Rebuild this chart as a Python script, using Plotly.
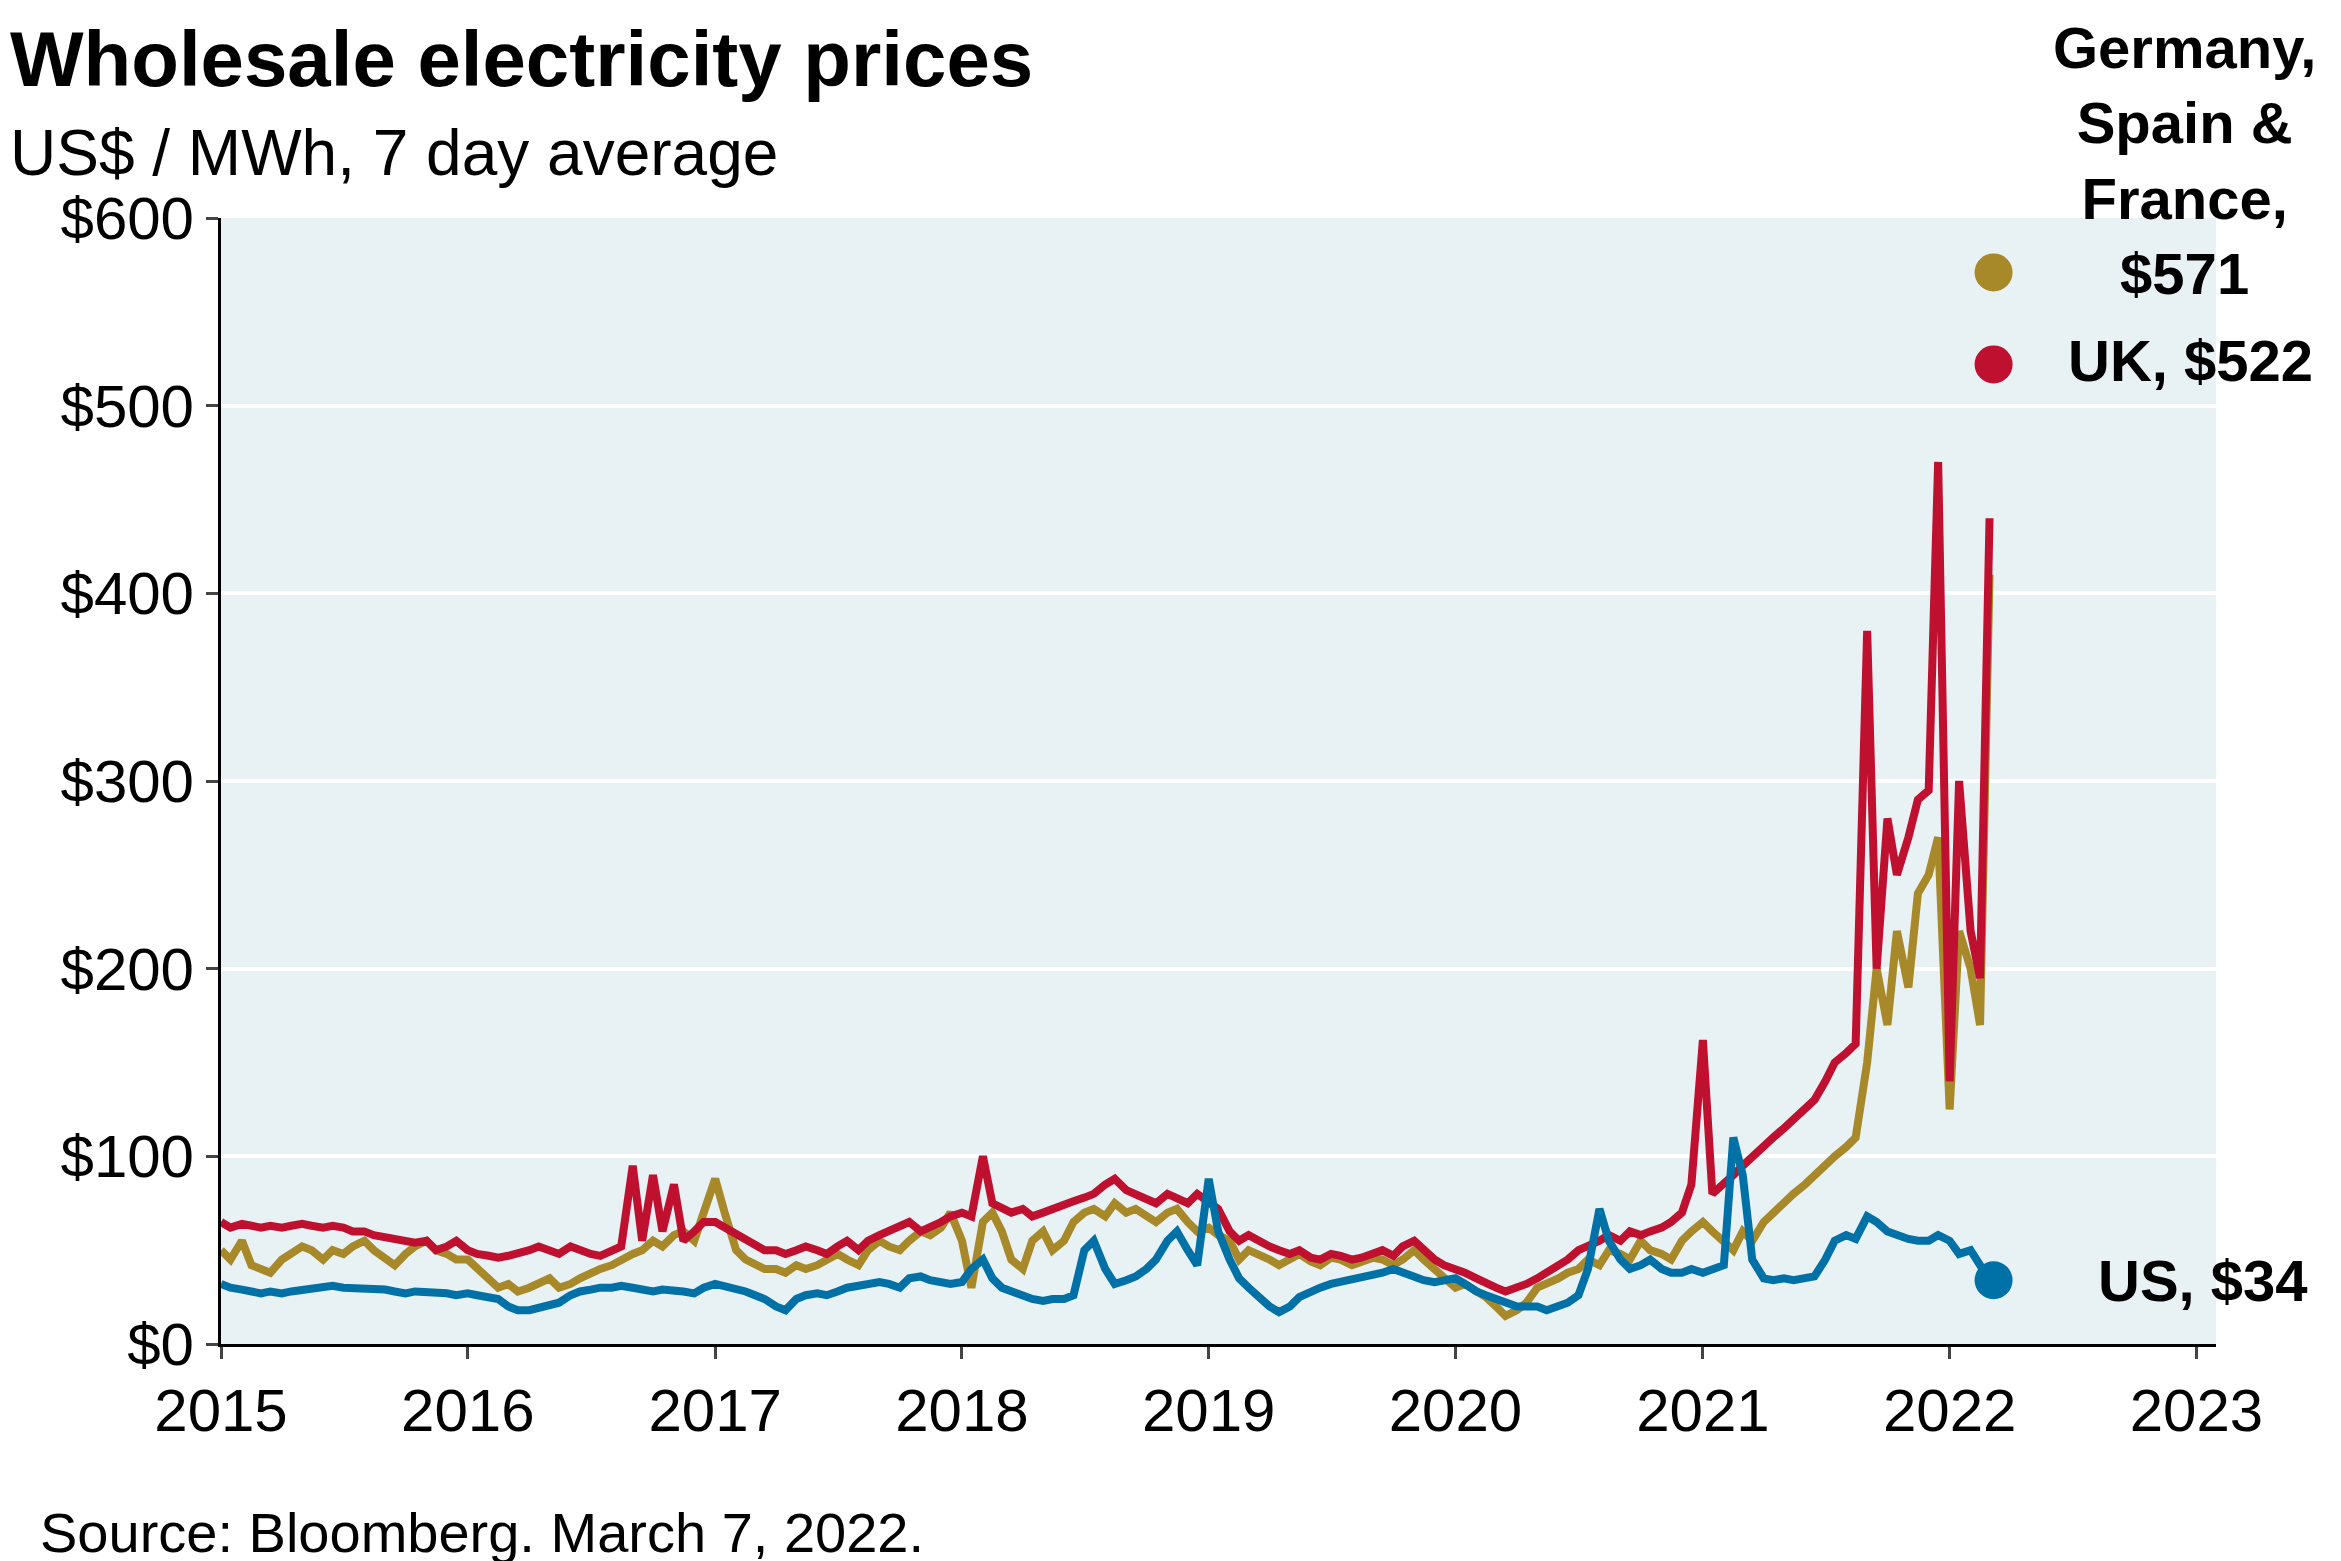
import pandas as pd
import plotly.graph_objects as go

dates = pd.date_range("2015-01-01", periods=173, freq="SMS")

us = [32,30,29,28,27,28,27,28,29,30,31,31,30,30,30,29,29,28,27,28,28,27,27,26,
      27,26,25,24,20,18,18,19,20,22,26,28,29,30,30,31,30,29,28,29,29,28,27,30,
      32,31,30,28,26,24,20,18,24,26,27,26,28,30,31,32,33,32,30,35,36,34,33,32,
      33,40,45,35,30,28,25,24,23,24,24,26,50,55,40,32,34,36,40,45,55,60,50,42,
      88,60,45,35,30,25,20,17,20,25,28,30,32,33,34,35,36,38,40,38,36,34,33,34,
      35,32,28,26,24,22,20,20,20,18,20,22,26,40,72,55,45,40,42,45,40,38,38,40,
      38,40,42,110,90,45,35,34,35,34,35,36,45,55,58,56,68,65,60,58,56,55,55,58,
      55,48,50,42,34]
gsf = [50,45,55,42,40,38,45,48,52,50,45,50,48,52,55,50,45,42,48,52,55,50,48,45,
       45,40,35,30,32,28,30,32,35,30,32,35,38,40,42,45,48,50,55,52,58,60,55,70,
       88,70,50,45,42,40,40,38,42,40,42,45,48,45,42,50,55,52,50,55,60,58,62,70,
       55,30,65,70,60,45,40,55,60,50,55,65,70,72,68,75,70,72,68,65,70,72,65,60,
       62,58,55,45,50,48,45,42,45,48,44,42,46,45,42,44,46,45,42,45,50,45,40,35,
       30,32,28,25,20,15,18,22,30,32,35,38,40,45,42,50,48,45,55,50,48,45,55,60,
       65,60,55,50,60,55,65,70,75,80,85,90,95,100,105,110,150,200,170,220,190,240,250,270,
       125,220,200,170,410]
uk = [65,62,64,63,62,63,62,63,64,63,62,63,62,60,60,58,57,56,55,54,55,50,52,55,
      50,48,47,46,47,48,50,52,50,48,52,50,48,47,50,52,95,55,90,60,85,55,60,65,
      65,62,58,55,52,50,50,48,50,52,50,48,52,55,50,55,58,60,62,65,60,62,65,68,
      70,68,100,75,72,70,72,68,70,72,75,76,78,80,85,88,82,80,78,75,80,78,75,80,
      75,72,60,55,58,55,52,50,48,50,46,45,48,47,45,46,48,50,47,52,55,50,45,42,
      40,38,35,32,30,28,30,32,35,38,42,45,50,52,55,58,55,60,58,60,62,65,70,85,
      162,80,85,90,95,100,105,110,115,120,125,130,140,150,155,160,380,200,280,250,270,290,295,470,
      140,300,220,195,440]

last_date = "2022-03-07"
last_vals = {"gsf": 571, "uk": 522, "us": 34}
y_ticks = [0, 100, 200, 300, 400, 500, 600]
y_labels = ["$0", "$100", "$200", "$300", "$400", "$500", "$600"]
x_ticks = [f"{y}-01-01" for y in range(2015, 2024)]
x_labels = [str(y) for y in range(2015, 2024)]

GOLD, RED, BLUE = "#a8892a", "#c0102f", "#0071a6"
fig = go.Figure()
for vals, c in [(gsf, GOLD), (uk, RED), (us, BLUE)]:
    fig.add_trace(go.Scatter(x=dates, y=vals, mode="lines", line=dict(color=c, width=8), showlegend=False))
for k, c in [("gsf", GOLD), ("uk", RED), ("us", BLUE)]:
    fig.add_trace(go.Scatter(x=[last_date], y=[last_vals[k]], mode="markers",
                             marker=dict(color=c, size=38), showlegend=False, cliponaxis=False))

F = "Liberation Sans, Arial, sans-serif"
H = 1126
W = 2341 - 213 - 133
fig.update_layout(
    width=2341, height=1561, paper_bgcolor="white", plot_bgcolor="#e8f1f4",
    margin=dict(l=213, r=133, t=210, b=225),
    font=dict(family=F, size=58, color="black"),
    xaxis=dict(type="date", range=["2015-01-01", "2023-01-30"], tickvals=x_ticks, ticktext=x_labels,
               showgrid=False, showline=True, linecolor="black", linewidth=3,
               ticks="outside", ticklen=12, tickwidth=3, tickfont=dict(size=60)),
    yaxis=dict(range=[0, 600], tickvals=y_ticks, ticktext=y_labels, showgrid=True,
               gridcolor="white", gridwidth=4, showline=True, linecolor="black", linewidth=3,
               ticks="outside", ticklen=12, tickwidth=3, zeroline=False, tickfont=dict(size=60)),
    annotations=[
        dict(text="<b>Wholesale electricity prices</b>", xref="paper", yref="paper", x=-213/W, y=1.0+205/H,
             xanchor="left", yanchor="top", showarrow=False, font=dict(size=78)),
        dict(text="US$ / MWh, 7 day average", xref="paper", yref="paper", x=-213/W, y=1.0+103/H,
             xanchor="left", yanchor="top", showarrow=False, font=dict(size=64)),
        dict(text="Source: Bloomberg. March 7, 2022.", xref="paper", yref="paper", x=-183/W, y=-(1558-1336)/H,
             xanchor="left", yanchor="bottom", showarrow=False, font=dict(size=56)),
        dict(text="<b>Germany,<br>Spain &<br>France,<br>$571</b>", xref="paper", yref="paper",
             x=(2176-213)/W, y=1.0+205/H, xanchor="center", yanchor="top", showarrow=False,
             font=dict(size=58), align="center"),
        dict(text="<b>UK, $522</b>", xref="paper", yref="y", x=(2058-213)/W, y=524,
             xanchor="left", yanchor="middle", showarrow=False, font=dict(size=58)),
        dict(text="<b>US, $34</b>", xref="paper", yref="y", x=(2088-213)/W, y=34,
             xanchor="left", yanchor="middle", showarrow=False, font=dict(size=58)),
    ],
)
fig.write_html("out.html")
